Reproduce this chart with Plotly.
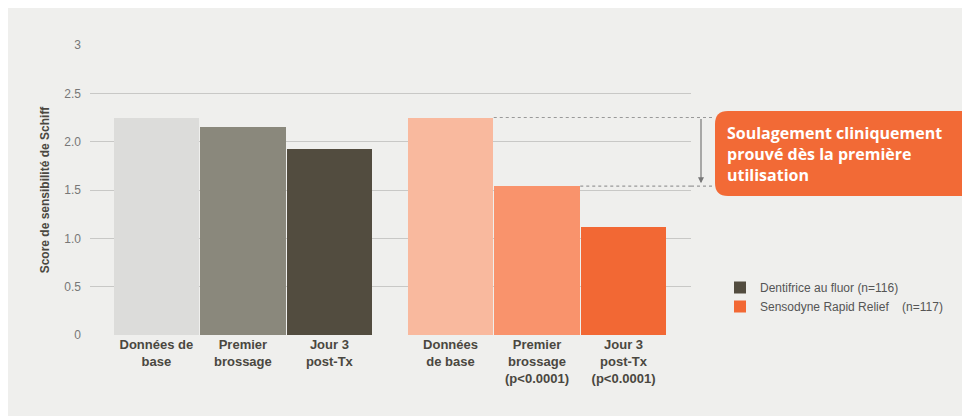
import plotly.graph_objects as go

# group 1: fluoride toothpaste, group 2: Sensodyne Rapid Relief
positions = [0, 1, 2, 3.4, 4.4, 5.4]
scores = [2.25, 2.15, 1.92, 2.25, 1.54, 1.12]
bar_colors = ["#dcdcda", "#8a887c", "#524c3f", "#f9b99e", "#f9936c", "#f26834"]
tick_labels = ["Données de<br>base", "Premier<br>brossage", "Jour 3<br>post-Tx",
               "Données<br>de base", "Premier<br>brossage<br>(p<0.0001)", "Jour 3<br>post-Tx<br>(p<0.0001)"]
legend_names = ["Dentifrice au fluor (n=116)", "Sensodyne Rapid Relief    (n=117)"]
legend_colors = ["#524c3f", "#f26834"]

bg = "#efefed"
px_per_unit = 290 / 3

fig = go.Figure()
fig.add_trace(go.Bar(x=positions, y=scores, width=0.99, marker_color=bar_colors,
                     marker_line_width=0, showlegend=False))
for name, col in zip(legend_names, legend_colors):
    fig.add_trace(go.Scatter(x=[None], y=[None], mode="markers", name=name,
                             marker=dict(symbol="square", size=15, color=col)))

# dotted reference lines from the Sensodyne bars to the callout
x_end = (705 - 82) / 601
for i in (3, 4):
    fig.add_shape(type="line", xref="x", yref="y", x0=positions[i] + 0.5, x1=6.18,
                  y0=scores[i], y1=scores[i], line=dict(color="#999", width=1.2, dash="dot"))
    fig.add_shape(type="line", xref="paper", yref="y", x0=1, x1=x_end,
                  y0=scores[i], y1=scores[i], line=dict(color="#999", width=1.2, dash="dot"))
head_y = scores[4] + 0.03
fig.add_annotation(xref="paper", yref="y", x=(693 - 82) / 601, y=head_y,
                   axref="pixel", ayref="pixel", ax=0, ay=-(scores[3] - head_y) * px_per_unit,
                   showarrow=True, arrowhead=2, arrowsize=1, arrowwidth=1.2, arrowcolor="#777", text="")

# rounded orange callout
x0, x1 = (707 - 82) / 601, (965 - 82) / 601
y0, y1 = (327 - 188) / 290, (327 - 103) / 290
rx, ry = 13 / 601, 13 / 290
path = (f"M {x0+rx},{y0} L {x1-rx},{y0} Q {x1},{y0} {x1},{y0+ry} L {x1},{y1-ry} "
        f"Q {x1},{y1} {x1-rx},{y1} L {x0+rx},{y1} Q {x0},{y1} {x0},{y1-ry} "
        f"L {x0},{y0+ry} Q {x0},{y0} {x0+rx},{y0} Z")
fig.add_shape(type="path", xref="paper", yref="paper", path=path,
              fillcolor="#f26a36", line_width=0)
fig.add_annotation(xref="paper", yref="paper", x=x0 + 10 / 601, y=(y0 + y1) / 2,
                   xanchor="left", yanchor="middle", align="left", showarrow=False,
                   text="<b>Soulagement cliniquement<br>prouvé dès la première<br>utilisation</b>",
                   font=dict(family="Open Sans", size=16, color="white"))

fig.update_layout(
    width=970, height=416, paper_bgcolor=bg, plot_bgcolor=bg,
    margin=dict(l=82, r=287, t=37, b=89),
    font=dict(family="Liberation Sans, Arial", color="#555"),
    xaxis=dict(range=[-0.767, 6.18], tickvals=positions,
               ticktext=["<b>" + t + "</b>" for t in tick_labels],
               tickfont=dict(size=13, color="#4a4740"), showgrid=False, zeroline=False,
               showline=False, ticks=""),
    yaxis=dict(range=[0, 3], tickvals=[0, 0.5, 1, 1.5, 2, 2.5, 3],
               ticktext=["0", "0.5", "1.0", "1.5", "2.0", "2.5", "3"],
               tickfont=dict(size=12, color="#777"), gridcolor="#c8c8c6", zeroline=False,
               ticklabelstandoff=8,
               title=dict(text="<b>Score de sensibilité de Schiff</b>",
                          font=dict(size=12, color="#4a4740"), standoff=12)),
    legend=dict(x=(712 - 82) / 601, y=(327 - 265) / 290, xanchor="left", yanchor="top",
                bgcolor="rgba(0,0,0,0)", font=dict(size=12, color="#555"),
                itemsizing="constant", tracegroupgap=4),
    bargap=0,
)
fig.write_html("out.html")
